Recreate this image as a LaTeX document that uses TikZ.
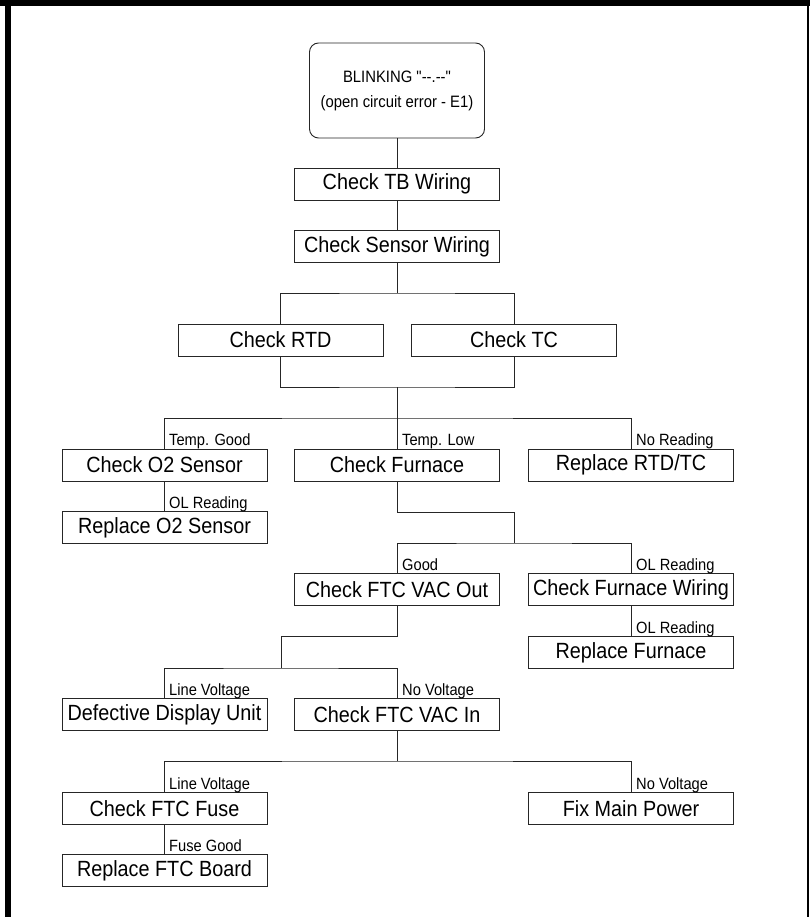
\documentclass[tikz,border=0pt]{standalone}
\usepackage{fontspec}
\newfontfamily\gefont{Liberation Sans}[FakeStretch=0.9]
\begin{document}
\begin{tikzpicture}[x=1pt,y=-1pt,
  box/.style={draw=black!85, line width=0.9pt, minimum width=205pt, minimum height=32pt, inner sep=0pt,
    font=\gefont\fontsize{22}{24}\selectfont},
  lbl/.style={anchor=base west, inner sep=0pt, font=\gefont\fontsize{16.3}{18}\selectfont},
  conn/.style={draw=black!85, line width=0.9pt}]
\useasboundingbox (0,0) rectangle (810,917);
% frame
\fill (0,0) rectangle (810,6);
\fill (5,0) rectangle (11,917);
\draw[line width=1.5pt] (808,0) -- (808,917);
% nodes
\node[box, rounded corners=9pt, minimum width=175pt, minimum height=95pt, align=center,
  font=\gefont\fontsize{16.5}{18}\selectfont] (start) at (397,90.5)
  {BLINKING "-{}-.-{}-"\\[7pt](open circuit error - E1)};
\node[box] (tb) at (397,184) {Check TB Wiring};
\node[box] (sw) at (397,246.5) {Check Sensor Wiring};
\node[box] (rtd) at (280.5,340) {Check RTD};
\node[box] (tc) at (514,340) {Check TC};
\node[box] (o2) at (164.5,465) {Check O2 Sensor};
\node[box] (furn) at (397,465) {Check Furnace};
\node[box] (rrtd) at (631,465) {Replace RTD/TC};
\node[box] (ro2) at (164.5,527.5) {Replace O2 Sensor};
\node[box] (vout) at (397,589.5) {Check FTC VAC Out};
\node[box] (fw) at (631,589.5) {Check Furnace Wiring};
\node[box] (rf) at (631,652.5) {Replace Furnace};
\node[box] (ddu) at (164.5,714.5) {Defective Display Unit};
\node[box] (vin) at (397,714.5) {Check FTC VAC In};
\node[box] (fuse) at (164.5,808.5) {Check FTC Fuse};
\node[box] (fmp) at (631,808.5) {Fix Main Power};
\node[box] (rfb) at (164.5,870.5) {Replace FTC Board};
% junctions
\coordinate (b1) at (397,293);
\coordinate (b2) at (397,387);
\coordinate (b3) at (397,418);
\coordinate (b4) at (514,512);
\coordinate (b5) at (514,543);
\coordinate (b6) at (281,636);
\coordinate (b7) at (281,668);
\coordinate (b8) at (397,761);
% connectors
\draw[conn] (start.south) -- (tb.north);
\draw[conn] (tb.south) -- (sw.north);
\draw[conn] (sw.south) -- (b1);
\draw[conn] (rtd.north) |- (b1) -| (tc.north);
\draw[conn] (rtd.south) |- (b2) -| (tc.south);
\draw[conn] (b2) -- (b3);
\draw[conn] (o2.north) |- (b3) -| (rrtd.north);
\draw[conn] (b3) -- (furn.north);
\draw[conn] (o2.south) -- (ro2.north);
\draw[conn] (furn.south) |- (b4) -- (b5);
\draw[conn] (vout.north) |- (b5) -| (fw.north);
\draw[conn] (fw.south) -- (rf.north);
\draw[conn] (vout.south) |- (b6) -- (b7);
\draw[conn] (ddu.north) |- (b7) -| (vin.north);
\draw[conn] (vin.south) -- (b8);
\draw[conn] (fuse.north) |- (b8) -| (fmp.north);
\draw[conn] (fuse.south) -- (rfb.north);
% labels
\node[lbl] (l1) at (169,445) {Temp. Good};
\node[lbl] (l2) at (402,445) {Temp. Low};
\node[lbl] (l3) at (636,445) {No Reading};
\node[lbl] (l4) at (169,508) {OL Reading};
\node[lbl] (l5) at (402,570) {Good};
\node[lbl] (l6) at (636,570) {OL Reading};
\node[lbl] (l7) at (636,633) {OL Reading};
\node[lbl] (l8) at (169,695) {Line Voltage};
\node[lbl] (l9) at (402,695) {No Voltage};
\node[lbl] (l10) at (169,789) {Line Voltage};
\node[lbl] (l11) at (636,789) {No Voltage};
\node[lbl] (l12) at (169,851) {Fuse Good};
\end{tikzpicture}
\end{document}
